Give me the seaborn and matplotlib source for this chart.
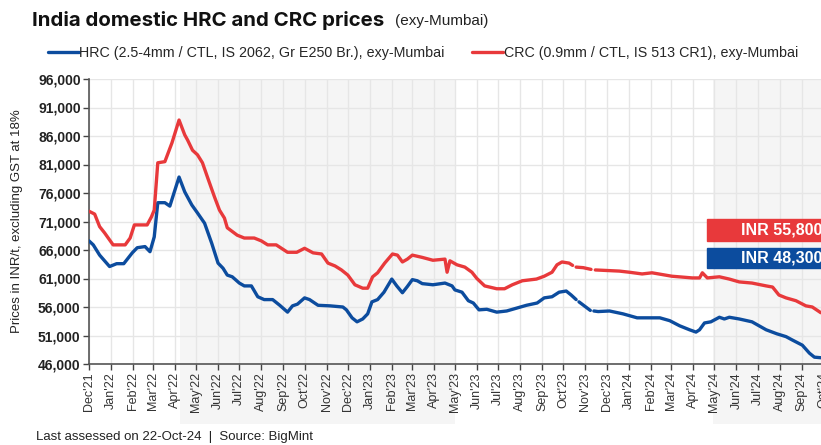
import numpy as np
import pandas as pd
import matplotlib
matplotlib.use("Agg")
import matplotlib.pyplot as plt
import matplotlib.dates as mdates
from matplotlib.patches import Rectangle
from matplotlib.lines import Line2D
import seaborn as sns

# ---------------- data ----------------
crc_dates = ["2021-12-01", "2021-12-09", "2021-12-16", "2021-12-23", "2022-01-04", "2022-01-21",
             "2022-01-28", "2022-02-03", "2022-02-21", "2022-02-27", "2022-03-03", "2022-03-08",
             "2022-03-18", "2022-03-28", "2022-04-07", "2022-04-15", "2022-04-19", "2022-04-26",
             "2022-05-03", "2022-05-10", "2022-05-17", "2022-05-27", "2022-06-03", "2022-06-10",
             "2022-06-14", "2022-06-28", "2022-07-08", "2022-07-22", "2022-08-01", "2022-08-10",
             "2022-08-22", "2022-09-07", "2022-09-20", "2022-10-01", "2022-10-13", "2022-10-25",
             "2022-11-03", "2022-11-13", "2022-11-22", "2022-12-01", "2022-12-11", "2022-12-22",
             "2022-12-29", "2023-01-05", "2023-01-12", "2023-01-22", "2023-02-02", "2023-02-09",
             "2023-02-16", "2023-02-23", "2023-03-02", "2023-03-16", "2023-03-31", "2023-04-17",
             "2023-04-20", "2023-04-24", "2023-05-04", "2023-05-15", "2023-05-25", "2023-06-01",
             "2023-06-12", "2023-06-29", "2023-07-10", "2023-07-21", "2023-08-04", "2023-08-24",
             "2023-09-04", "2023-09-15", "2023-09-22", "2023-09-29", "2023-10-09", "2023-10-14",
             "2023-10-16", "2023-10-19", "2023-10-29", "2023-11-09", "2023-11-12", "2023-11-15",
             "2023-12-19",
             "2024-01-02", "2024-01-20", "2024-02-03", "2024-03-02", "2024-03-31", "2024-04-10",
             "2024-04-14", "2024-04-21", "2024-05-08", "2024-05-22", "2024-06-05", "2024-06-23",
             "2024-07-13", "2024-07-22", "2024-07-31", "2024-08-10", "2024-08-24", "2024-09-07",
             "2024-09-16", "2024-09-28"]
crc_values = [72800, 72300, 70100, 69000, 66900, 66900,
              68100, 70400, 70400, 71800, 73000, 81300,
              81500, 84800, 88800, 86200, 85300, 83500,
              82700, 81300, 78800, 75300, 73000, 71600,
              69900, 68600, 68100, 68100, 67600, 66900,
              66900, 65600, 65600, 66300, 65500, 65300,
              63700, 63200, 62500, 61600, 59900, 59300,
              59300, 61300, 62000, 63700, 65300, 65100,
              63900, 64400, 65100, 64700, 64200, 64400,
              62100, 64100, 63400, 63000, 62100, 61000,
              59700, 59200, 59200, 59900, 60600, 60900,
              61400, 62100, 63400, 63900, 63700, 63300,
              np.nan, 63000, 62900, 62600, np.nan, 62500,
              62300,
              62100, 61800, 62000, 61400, 61100, 61100,
              62000, 61100, 61300, 60900, 60400, 60200,
              59700, 59500, 58100, 57600, 57100, 56200,
              56000, 55000]

hrc_dates = ["2021-12-01", "2021-12-07", "2021-12-16", "2021-12-30", "2022-01-09", "2022-01-19",
             "2022-01-31", "2022-02-07", "2022-02-18", "2022-02-25", "2022-03-03", "2022-03-08",
             "2022-03-18", "2022-03-25", "2022-04-07", "2022-04-15", "2022-04-25", "2022-05-03",
             "2022-05-13", "2022-05-23", "2022-06-01", "2022-06-08", "2022-06-14", "2022-06-21",
             "2022-07-01", "2022-07-08", "2022-07-18", "2022-07-27", "2022-08-05", "2022-08-17",
             "2022-08-27", "2022-09-07", "2022-09-14", "2022-09-21", "2022-10-01", "2022-10-08",
             "2022-10-20", "2022-11-06", "2022-11-24", "2022-11-29", "2022-12-07", "2022-12-14",
             "2022-12-22", "2022-12-29", "2023-01-04", "2023-01-12", "2023-01-21", "2023-02-01",
             "2023-02-08", "2023-02-16", "2023-02-23", "2023-03-02", "2023-03-09", "2023-03-16",
             "2023-03-31", "2023-04-17", "2023-04-27", "2023-05-01", "2023-05-11", "2023-05-20",
             "2023-05-27", "2023-06-04", "2023-06-15", "2023-06-29", "2023-07-13", "2023-07-27",
             "2023-08-10", "2023-08-25", "2023-09-04", "2023-09-15", "2023-09-25", "2023-10-05",
             "2023-10-12", "2023-10-19", "2023-10-21", "2023-10-23", "2023-11-08", "2023-11-10",
             "2023-11-13", "2023-11-19", "2023-12-05", "2023-12-24", "2024-01-13", "2024-02-14",
             "2024-02-28",
             "2024-03-13", "2024-03-27", "2024-04-05", "2024-04-10", "2024-04-17", "2024-04-26",
             "2024-05-08", "2024-05-15", "2024-05-22", "2024-06-05", "2024-06-23", "2024-07-13",
             "2024-07-28", "2024-08-10", "2024-08-19", "2024-09-02", "2024-09-12", "2024-09-19",
             "2024-09-28"]
hrc_values = [67600, 66900, 65100, 63100, 63600, 63600,
              65500, 66400, 66600, 65700, 68300, 74300,
              74300, 73700, 78800, 76200, 73900, 72500,
              70700, 67200, 63700, 62800, 61600, 61300,
              60200, 59700, 59700, 57800, 57300, 57300,
              56300, 55100, 56200, 56500, 57600, 57300,
              56300, 56200, 56000, 55500, 54100, 53400,
              53900, 54800, 56900, 57300, 58600, 60900,
              59700, 58500, 59600, 60800, 60600, 60100,
              59900, 60200, 59700, 59000, 58600, 57100,
              56700, 55500, 55600, 55100, 55300, 55800,
              56300, 56700, 57600, 57800, 58600, 58800,
              58100, 57300, np.nan, 56900, 55400, np.nan,
              55300, 55200, 55300, 54800, 54100, 54100,
              53600,
              52700, 52000, 51600, 52000, 53200, 53400,
              54200, 53900, 54200, 53900, 53400, 52000,
              51300, 50800, 50200, 49300, 47900, 47200,
              47100]

series_labels = ["HRC (2.5-4mm / CTL, IS 2062, Gr E250 Br.), exy-Mumbai",
                 "CRC (0.9mm / CTL, IS 513 CR1), exy-Mumbai"]
latest_labels = ["INR 48,300", "INR 55,800"]
shade_periods = [("2022-04-09", "2023-05-01"), ("2024-04-29", "2024-10-31")]
y_ticks = list(range(46000, 96001, 5000))

title_main = "India domestic HRC and CRC prices"
title_sub = "(exy-Mumbai)"
y_label = "Prices in INR/t, excluding GST at 18%"
footer = "Last assessed on 22-Oct-24  |  Source: BigMint"

# ---------------- build frame ----------------
def to_frame(dates, values, name):
    df = pd.DataFrame({"date": pd.to_datetime(dates), "price": values, "series": name})
    df["seg"] = df["price"].isna().cumsum()
    return df.dropna()

df = pd.concat([to_frame(hrc_dates, hrc_values, series_labels[0]),
                to_frame(crc_dates, crc_values, series_labels[1])], ignore_index=True)
df["unit"] = df["series"].str[:3] + df["seg"].astype(str)

BLUE = "#0c4c9e"
RED = "#e8393b"
palette = {series_labels[0]: BLUE, series_labels[1]: RED}

# ---------------- plot ----------------
sns.set_theme(style="white")
plt.rcParams["font.family"] = ["Liberation Sans", "DejaVu Sans"]

W, H = 821, 445
fig = plt.figure(figsize=(W / 100, H / 100), dpi=100)
ax_left, ax_right, ax_top, ax_bot = 89, 830, 79, 364
ax = fig.add_axes([ax_left / W, 1 - ax_bot / H, (ax_right - ax_left) / W, (ax_bot - ax_top) / H])

for s, e in shade_periods:
    ax.axvspan(pd.Timestamp(s), pd.Timestamp(e), ymin=-0.21, ymax=1.0, color="#f5f5f5",
               zorder=0.1, clip_on=False, lw=0)

sns.lineplot(data=df, x="date", y="price", hue="series", units="unit", estimator=None,
             palette=palette, linewidth=2.4, legend=False, ax=ax, zorder=3)

ax.set_xlim(pd.Timestamp("2021-12-01"), pd.Timestamp("2024-10-11"))
ax.set_ylim(46000, 96000)
ax.set_yticks(y_ticks)
ax.set_yticklabels([f"{v:,}" for v in y_ticks], fontsize=10, fontweight="bold", color="#222222")
ax.xaxis.set_major_locator(mdates.MonthLocator())
ax.xaxis.set_major_formatter(mdates.DateFormatter("%b'%y"))
plt.setp(ax.get_xticklabels(), rotation=90, fontsize=9, color="#333333")
ax.tick_params(axis="both", which="major", length=4, width=1, color="#444444", direction="out",
               bottom=True, left=True, pad=2)
ax.set_axisbelow(True)
ax.grid(True, color="#e6e6e6", linewidth=1)
for sp in ["top", "right"]:
    ax.spines[sp].set_visible(False)
for sp in ["left", "bottom"]:
    ax.spines[sp].set_color("#555555")
    ax.spines[sp].set_linewidth(1.2)
ax.set_xlabel("")
ax.set_ylabel(y_label, fontsize=9.5, color="#222222", labelpad=11)
ax.patch.set_alpha(0)

# title
fig.text(32 / W, 1 - 20 / H, title_main, fontsize=14.7, fontweight="bold", color="#111111",
         va="center", ha="left", family=["Inter", "DejaVu Sans"])
fig.text(395 / W, 1 - 21 / H, title_sub, fontsize=11, color="#222222", va="center", ha="left")

# legend
handles = [Line2D([0], [0], color=BLUE, lw=2.4), Line2D([0], [0], color=RED, lw=2.4)]
fig.legend(handles, series_labels, loc="center left", bbox_to_anchor=(48 / W, 1 - 53 / H),
           ncol=2, frameon=False, fontsize=10.3, handlelength=2.15, handletextpad=0.05,
           columnspacing=1.9, borderaxespad=0, borderpad=0)

# latest value boxes
for (y0, y1, col, lab) in [(219, 241, RED, latest_labels[1]), (248, 268, BLUE, latest_labels[0])]:
    fig.patches.append(Rectangle((707 / W, 1 - y1 / H), (130) / W, (y1 - y0) / H,
                                 transform=fig.transFigure, color=col, zorder=5))
    fig.text(741 / W, 1 - (y0 + y1) / 2 / H, lab, color="white", fontsize=11.5, fontweight="bold",
             va="center", ha="left", zorder=6)

# footer
fig.text(36 / W, 1 - 437 / H, footer, fontsize=9.5, color="#222222", va="center", ha="left")

fig.savefig("out.png", dpi=100)
